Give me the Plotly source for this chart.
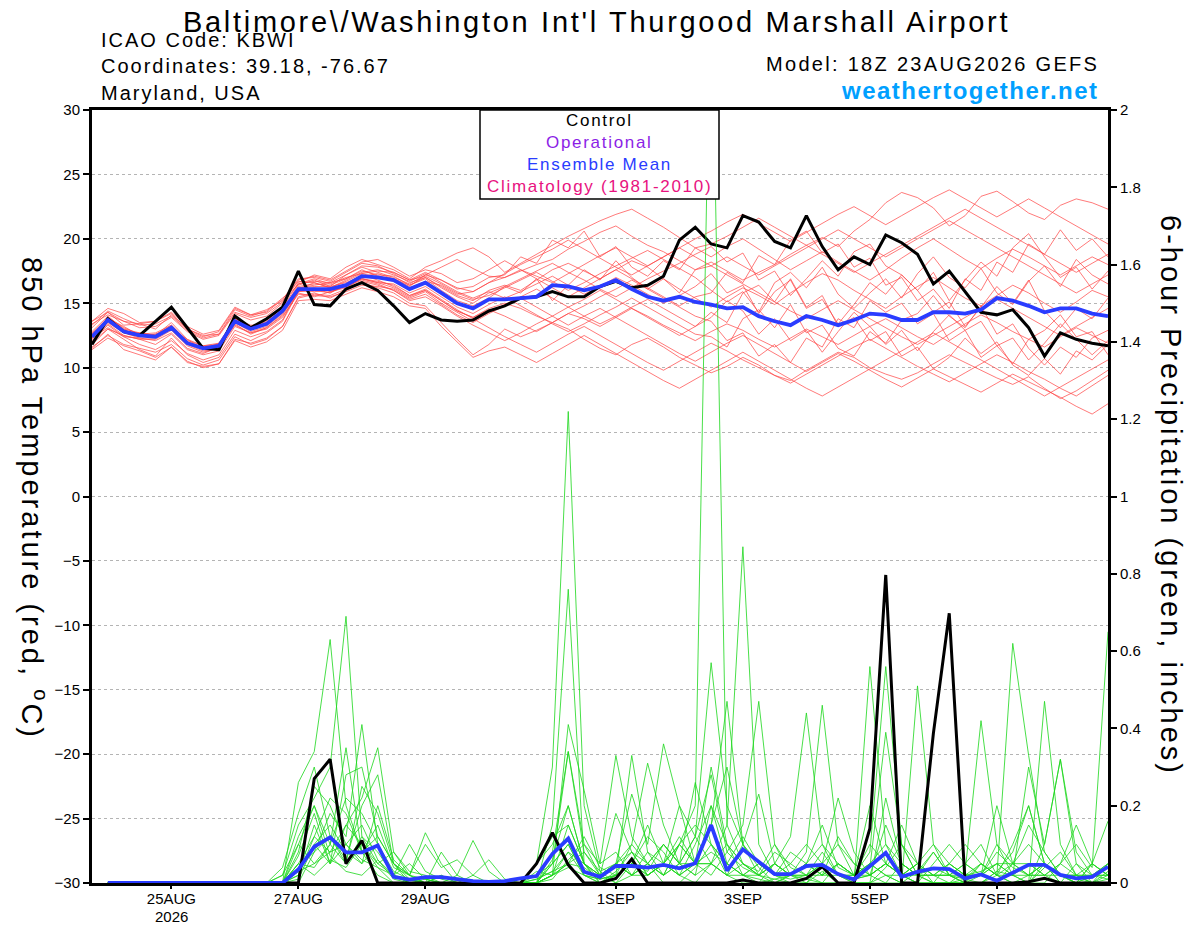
import plotly.graph_objects as go
import pandas as pd

# ---------------- data ----------------
start_time = "2026-08-23 18:00"
n_steps = 65
tick_dates = ["2026-08-25", "2026-08-27", "2026-08-29", "2026-09-01",
              "2026-09-03", "2026-09-05", "2026-09-07"]
tick_labels = ["25AUG", "27AUG", "29AUG", "1SEP", "3SEP", "5SEP", "7SEP"]
year_label = "2026"
temp_ticks = [-30, -25, -20, -15, -10, -5, 0, 5, 10, 15, 20, 25, 30]
prcp_ticks = [0, 0.2, 0.4, 0.6, 0.8, 1, 1.2, 1.4, 1.6, 1.8, 2]
prcp_tick_labels = ["0", "0.2", "0.4", "0.6", "0.8", "1", "1.2", "1.4", "1.6", "1.8", "2"]

temp_control = [
    11.8, 13.8, 12.8, 12.5, 13.6, 14.7, 13.1, 11.5, 11.4, 14.0, 13.1, 13.8, 14.7,
    17.5, 14.9, 14.8, 16.1, 16.6, 16.0, 14.8, 13.5, 14.2, 13.7, 13.6, 13.7, 14.4,
    14.8, 15.4, 15.5, 15.9, 15.5, 15.5, 16.3, 16.7, 16.2, 16.4, 17.1, 19.9, 20.9,
    19.6, 19.3, 21.8, 21.3, 19.8, 19.3, 21.8, 19.4, 17.6, 18.6, 18.0, 20.3, 19.7,
    18.8, 16.5, 17.5, 15.9, 14.3, 14.1, 14.5, 13.1, 10.9, 12.7, 12.2, 11.9, 11.7]

temp_mean = [
    12.4, 13.7, 12.8, 12.5, 12.4, 13.1, 11.9, 11.5, 11.7, 13.6, 13.0, 13.4, 14.4,
    16.1, 16.1, 16.1, 16.4, 17.1, 17.0, 16.8, 16.1, 16.6, 15.8, 15.0, 14.6, 15.3,
    15.3, 15.4, 15.5, 16.4, 16.3, 16.0, 16.3, 16.8, 16.1, 15.5, 15.2, 15.5, 15.1,
    14.9, 14.6, 14.7, 14.0, 13.6, 13.3, 14.0, 13.7, 13.3, 13.7, 14.2, 14.1, 13.7,
    13.7, 14.3, 14.3, 14.2, 14.5, 15.4, 15.2, 14.8, 14.3, 14.6, 14.6, 14.2, 14.0]

temp_m01 = [13.4,14.1,13.6,13.4,13.0,14.1,13.0,12.5,12.6,14.5,14.0,14.4,15.4,
            16.4,16.8,16.3,17.2,17.8,17.4,17.0,16.5,17.2,16.8,16.2,15.9,16.6,
            17.0,17.5,18.0,18.4,19.2,19.8,20.5,21.0,20.2,19.5,19.0,18.3,17.6,
            18.2,17.5,16.8,17.4,18.0,18.8,19.5,20.1,19.4,20.6,21.5,22.8,23.6,
            23.2,22.4,21.0,21.8,23.3,23.7,22.9,22.0,21.5,22.6,23.1,22.8,22.3]
temp_m02 = [11.5,12.6,11.4,11.0,10.6,11.6,10.4,10.1,10.3,12.2,11.9,12.3,13.2,
            15.5,15.8,15.4,16.0,16.6,16.2,15.8,15.0,14.8,13.5,12.2,11.0,11.8,
            13.0,12.4,12.9,13.5,13.0,12.2,11.5,11.0,11.8,12.3,11.6,10.8,10.2,
            9.6,10.1,10.8,10.2,9.4,9.0,9.8,10.5,11.2,10.8,10.0,9.5,9.1,
            9.6,10.3,11.0,10.4,9.8,9.2,8.7,9.3,8.4,7.6,8.2,9.0,9.8]
temp_m03 = [13.6,14.6,14.2,13.5,13.6,14.3,13.2,12.6,12.9,14.7,14.1,14.3,15.3,
            16.9,17.0,16.7,17.4,18.1,17.9,17.3,16.6,17.0,16.3,15.6,15.2,16.0,
            16.4,16.0,16.8,17.6,18.1,17.5,16.9,17.6,18.3,17.8,16.9,16.1,15.4,
            14.7,15.5,16.2,15.6,14.9,15.8,16.6,17.3,16.8,16.0,15.3,14.6,15.5,
            16.3,17.0,16.2,15.4,14.8,15.6,16.4,15.8,15.0,14.3,15.1,16.0,15.5]
temp_m04 = [11.8,13.0,12.5,12.2,11.8,12.6,11.4,11.0,11.3,13.2,12.7,13.0,13.9,
            15.8,15.5,15.9,16.2,16.9,16.7,16.4,15.6,16.0,15.2,14.4,13.9,14.6,
            15.0,14.6,14.0,13.5,14.2,13.8,13.2,13.9,14.6,14.0,13.3,12.7,12.1,
            12.8,13.4,12.9,12.2,11.6,12.3,13.0,12.4,11.8,12.5,13.2,13.8,13.1,
            12.4,11.8,12.6,13.4,14.1,13.5,12.8,12.2,11.6,12.4,13.1,12.5,11.9]
temp_m05 = [12.6,13.9,13.1,12.6,12.7,13.3,12.1,11.7,11.9,13.8,13.2,13.7,14.6,
            16.6,17.2,16.9,17.8,18.4,18.0,17.6,16.9,17.8,18.3,18.9,19.3,18.6,
            17.4,18.1,18.8,19.5,20.2,20.8,21.4,21.9,22.3,21.6,20.9,20.1,19.3,
            18.6,19.4,20.0,19.2,18.4,17.6,18.3,19.0,18.2,17.5,16.8,17.6,18.5,
            19.3,20.0,19.2,18.4,17.7,18.5,19.2,18.6,17.9,17.2,17.9,18.6,18.0]
temp_m06 = [12.0,13.0,12.2,11.4,10.9,12.3,11.0,10.4,10.8,12.6,12.1,12.7,13.6,
            15.9,16.1,15.8,16.5,17.2,16.8,16.3,15.6,16.1,15.3,14.5,13.8,13.1,
            12.4,11.8,11.2,11.9,12.6,13.2,12.5,11.8,11.1,10.4,9.8,10.5,11.2,
            11.9,11.3,10.6,10.0,9.4,8.8,9.5,10.2,10.9,11.6,12.2,11.5,10.8,
            10.1,9.5,8.9,9.6,10.3,11.0,10.4,9.7,9.1,8.4,7.8,8.6,9.4]
temp_m07 = [12.8,14.0,13.0,12.7,12.5,13.5,12.2,11.7,11.8,13.7,13.1,13.5,14.5,
            16.2,16.4,16.6,16.9,17.5,17.2,17.1,16.4,17.0,16.2,15.5,15.0,15.8,
            16.3,16.9,17.5,18.1,17.4,16.8,16.1,15.5,16.2,16.9,17.5,18.1,18.8,
            19.4,18.2,18.9,16.8,17.5,15.6,16.9,18.3,17.1,19.0,19.6,17.9,17.2,
            16.0,17.4,15.2,16.8,18.2,17.1,19.3,20.4,18.6,17.0,17.8,16.1,17.5]
temp_m08 = [12.3,13.1,12.4,11.8,11.4,12.1,11.1,10.6,11.0,12.9,12.4,12.8,13.7,
            16.0,15.9,16.0,16.3,16.8,16.5,16.0,15.3,15.7,14.9,14.1,13.5,14.2,
            14.8,15.4,14.7,14.0,13.3,14.0,14.6,13.9,13.2,12.5,11.8,11.1,10.5,
            11.2,11.9,12.5,11.8,11.1,10.4,9.7,10.4,11.1,10.5,9.8,9.1,8.5,
            9.2,9.9,9.3,8.7,8.1,8.8,9.5,8.9,8.3,7.7,7.0,6.4,7.2]
temp_m09 = [13.6,14.3,13.3,13.4,13.6,14.2,13.0,12.4,12.8,14.6,14.1,14.5,15.2,
            16.7,16.6,16.2,16.8,17.4,17.6,17.2,16.7,17.3,16.6,15.9,15.4,15.9,
            15.4,15.9,16.5,17.1,16.4,15.7,16.3,17.0,16.4,15.7,15.0,15.6,16.3,
            17.3,15.8,16.4,14.2,15.9,16.8,14.6,15.3,13.4,14.9,16.6,15.7,17.2,
            16.0,14.3,15.1,13.2,14.7,16.3,15.0,16.8,14.4,13.1,14.6,13.8,15.4]
temp_m10 = [12.3,13.7,12.9,12.6,12.4,13.2,12.0,11.6,11.8,13.5,13.1,13.6,14.5,
            16.3,16.5,16.4,16.9,17.6,17.1,16.9,16.3,17.2,17.8,18.4,17.7,17.1,
            17.0,17.6,17.1,16.6,17.3,18.0,18.7,19.3,18.6,17.9,18.6,19.3,20.0,
            20.6,21.3,21.9,21.2,20.5,19.8,20.5,21.2,21.9,22.5,21.8,21.1,21.8,
            22.5,23.2,23.8,23.1,22.4,21.7,22.4,23.1,22.4,21.7,21.0,20.3,19.6]
temp_m11 = [12.1,13.3,12.4,12.3,12.1,12.7,11.5,11.1,11.6,13.4,12.6,13.1,14.0,
            15.7,15.6,15.5,15.9,16.4,16.3,16.1,15.4,15.9,15.0,14.3,13.6,14.3,
            14.9,15.5,16.1,15.4,14.7,14.0,13.4,14.0,14.7,15.3,14.6,13.9,13.2,
            13.9,15.2,14.4,12.6,13.8,12.1,12.9,11.2,12.8,14.3,13.2,11.8,12.9,
            11.3,12.8,14.1,12.9,13.6,11.7,12.3,10.6,11.9,13.4,12.2,11.0,12.1]
temp_m12 = [12.7,13.8,13.2,12.5,12.6,13.0,12.2,11.4,11.9,13.8,13.3,13.3,14.3,
            16.5,16.9,16.5,17.0,17.3,17.5,17.4,16.8,17.1,16.5,15.8,15.3,15.6,
            16.2,16.8,17.4,16.7,16.0,16.6,17.3,17.9,18.5,19.1,18.4,17.7,17.0,
            16.0,15.1,15.9,14.3,16.6,17.4,16.2,17.8,15.7,14.6,15.8,16.9,15.4,
            17.3,18.6,17.0,16.2,17.7,15.8,14.9,16.7,17.9,16.3,18.4,17.2,16.5]
temp_m13 = [12.4,13.5,12.7,12.3,12.3,13.0,11.8,11.3,11.5,13.5,12.8,13.2,14.2,
            16.0,16.2,15.9,16.3,16.9,16.6,16.5,15.8,16.3,15.5,14.7,14.2,14.9,
            15.5,14.8,14.1,13.4,12.8,13.4,14.1,14.7,15.4,14.7,14.0,13.3,12.6,
            12.4,11.6,13.8,14.5,13.1,14.9,12.7,13.3,11.5,10.9,12.8,11.9,13.7,
            14.2,15.6,14.0,13.1,14.8,12.6,13.4,11.5,10.2,11.6,10.8,12.3,12.9]
temp_m14 = [12.6,13.6,12.8,12.7,12.5,13.3,12.0,11.5,11.6,13.6,13.0,13.5,14.4,
            16.1,16.6,16.2,16.7,17.3,17.0,16.7,16.2,16.7,16.4,15.7,15.9,16.6,
            17.3,18.0,18.6,19.2,19.9,19.2,18.5,17.8,17.2,17.9,18.6,19.3,18.6,
            17.9,17.2,16.5,15.8,15.1,14.4,13.8,14.5,15.2,14.5,13.8,13.1,12.4,
            11.8,12.5,13.2,13.9,14.6,15.3,14.6,13.9,13.2,12.5,13.2,13.9,14.6]
temp_m15 = [11.6,12.5,11.8,11.5,11.2,11.8,10.7,10.2,10.6,12.4,11.8,12.2,13.2,
            15.4,15.7,15.6,16.1,16.7,16.4,16.0,15.2,15.5,14.8,14.0,13.3,12.7,
            12.1,12.7,13.4,14.0,14.7,15.3,16.0,15.3,14.6,13.9,13.2,12.5,13.2,
            14.3,13.5,15.8,16.4,15.1,16.9,14.7,15.6,13.2,13.9,12.1,12.8,10.9,
            11.6,9.9,10.8,12.3,11.1,12.0,10.2,9.4,10.7,9.5,11.3,10.6,11.8]
temp_m16 = [13.3,14.4,13.8,13.3,13.4,14.0,12.9,12.3,12.6,14.3,13.9,14.2,15.1,
            16.8,17.1,16.8,17.5,18.2,18.4,17.8,17.1,17.6,17.3,16.6,16.9,17.6,
            18.3,17.6,16.9,16.2,15.5,16.2,16.9,17.6,16.9,16.2,15.5,14.8,15.5,
            15.8,17.4,16.6,18.7,18.0,19.9,20.6,18.9,19.6,17.8,18.5,16.4,17.0,
            15.2,16.1,14.6,16.9,16.0,18.2,17.4,19.6,18.8,20.7,19.1,20.0,18.6]
temp_m17 = [11.4,12.3,11.7,11.3,10.8,11.6,10.5,10.0,10.3,12.1,11.6,12.0,12.9,
            15.2,15.3,15.2,15.7,16.2,15.9,15.5,14.8,14.6,13.2,12.0,10.8,11.3,
            11.6,11.0,10.4,11.1,11.8,12.5,11.8,11.1,10.4,9.7,9.0,8.4,9.1,
            9.8,10.5,11.2,10.5,9.8,9.1,8.4,7.8,8.5,9.2,9.9,10.6,11.3,
            12.0,12.7,12.0,11.3,10.6,9.9,9.2,8.5,7.8,8.5,9.2,9.9,10.6]
temp_m18 = [12.5,13.8,13.0,12.4,12.6,13.2,11.9,11.6,11.7,13.7,13.1,13.4,14.3,
            16.2,16.3,16.3,16.6,17.1,17.3,16.9,16.4,16.9,16.0,15.2,14.8,15.4,
            16.3,15.8,16.9,15.2,16.4,17.6,16.8,18.3,17.0,16.1,16.9,15.8,17.6,
            17.9,18.6,17.9,17.2,17.9,18.6,19.3,20.0,20.7,20.0,19.3,18.6,19.3,
            20.0,20.7,21.4,20.7,20.0,19.3,18.6,17.9,17.2,16.5,15.8,16.5,17.2]
temp_m19 = [12.2,13.4,12.5,12.2,12.2,12.9,11.7,11.2,11.5,13.3,12.7,13.1,14.1,
            15.9,16.0,15.8,16.4,16.9,16.6,16.2,15.5,16.0,15.2,14.4,13.9,14.5,
            14.0,13.4,12.8,13.5,14.2,14.8,15.5,16.1,16.8,16.1,15.4,14.7,14.0,
            13.6,12.1,12.7,10.9,11.8,10.4,12.3,11.6,13.8,13.1,15.2,14.3,15.0,
            13.4,14.2,12.1,12.9,10.8,11.7,10.3,12.2,12.9,14.1,12.4,12.8,11.0]
temp_m20 = [13.1,14.3,13.6,13.1,13.2,13.9,12.8,12.2,12.5,14.2,13.7,14.0,15.0,
            16.5,16.7,16.6,17.2,17.9,17.8,17.4,16.8,17.4,16.8,16.1,16.3,17.0,
            17.2,18.6,18.1,19.9,19.3,20.6,18.6,19.4,17.8,17.1,18.3,17.6,19.3,
            19.6,20.2,20.9,21.6,20.9,20.2,19.5,18.8,18.1,17.4,18.1,18.8,19.5,
            20.2,20.9,21.6,22.3,21.6,20.9,20.2,19.5,18.8,18.1,17.4,18.1,18.8]

# 6-hour precipitation, valid times 6h .. 384h (64 values)
prcp_control = [0, 0, 0, 0, 0, 0, 0, 0, 0, 0, 0, 0, 0, 0.27, 0.32, 0.05,
                0.11, 0, 0, 0, 0, 0, 0, 0, 0, 0, 0, 0.05, 0.13, 0.047, 0, 0,
                0.012, 0.062, 0, 0, 0, 0, 0, 0, 0.008, 0, 0, 0, 0.012, 0.042, 0, 0,
                0.141, 0.797, 0, 0, 0.387, 0.698, 0, 0, 0, 0, 0.003, 0.012, 0, 0, 0, 0]
prcp_mean = [0, 0, 0, 0, 0, 0, 0, 0, 0, 0, 0, 0, 0.035, 0.094, 0.118, 0.079,
             0.079, 0.097, 0.016, 0.009, 0.015, 0.015, 0.01, 0.005, 0.003, 0.005, 0.012, 0.018, 0.075, 0.115, 0.029, 0.016,
             0.044, 0.044, 0.04, 0.047, 0.038, 0.051, 0.15, 0.032, 0.087, 0.055, 0.023, 0.023, 0.044, 0.047, 0.023, 0.009,
             0.044, 0.078, 0.016, 0.029, 0.038, 0.036, 0.012, 0.022, 0.006, 0.027, 0.047, 0.047, 0.021, 0.012, 0.016, 0.042]

prcp_m01 = [0,0,0,0,0,0,0,0,0,0,0,0,0.05,0.12,0.08,0.15,
            0.1,0.04,0,0,0,0.02,0,0,0,0,0,0.05,0.3,1.22,0.2,0.03,
            0,0.02,0.05,0,0,0.04,0.1,0.02,0,0,0.01,0,0,0.03,0,0,
            0,0.02,0,0,0,0,0.01,0.05,0.02,0,0,0.04,0.08,0.02,0,0]
prcp_m02 = [0,0,0,0,0,0,0,0,0,0,0,0,0.1,0.2,0.07,0.03,
            0.02,0.06,0.01,0,0,0,0,0,0,0,0,0,0.05,0.1,0.02,0,
            0.03,0.08,0.02,0.05,0.1,0.2,2.4,0.15,0.05,0.02,0,0,0.01,0,0,0,
            0,0,0,0.03,0.08,0.02,0,0,0,0,0.02,0.05,0,0,0,0.01]
prcp_m03 = [0,0,0,0,0,0,0,0,0,0,0,0.02,0.15,0.22,0.3,0.69,
            0.12,0.05,0.02,0,0.01,0,0,0,0,0,0,0,0.08,0.34,0.1,0.02,
            0,0.05,0.12,0.08,0.02,0,0.05,0.15,0.87,0.1,0.02,0,0,0.05,0.02,0,
            0,0.04,0.1,0.05,0,0,0,0,0.03,0.08,0.2,0.05,0,0,0,0]
prcp_m04 = [0,0,0,0,0,0,0,0,0,0,0,0,0.26,0.34,0.63,0.2,
            0.08,0.15,0.04,0.02,0.13,0.05,0,0,0,0,0,0,0.02,0.05,0.04,0.01,
            0.05,0.23,0.1,0.36,0.2,0.05,0.3,0.1,0.05,0.03,0.1,0.04,0.02,0,0,0,
            0.56,0.1,0.02,0,0,0,0,0.05,0.02,0,0,0.1,0.32,0.05,0,0]
prcp_m05 = [0,0,0,0,0,0,0,0,0,0,0,0,0,0.08,0.18,0.12,
            0.41,0.1,0.02,0,0,0,0.02,0.11,0.03,0,0,0,0.15,0.76,0.05,0,
            0.02,0.05,0.03,0.1,0.05,0.12,0.57,0.2,0.1,0.04,0,0.02,0.08,0.46,0.1,0.02,
            0.05,0.02,0,0.51,0.1,0.02,0,0,0,0.05,0.15,0.08,0.02,0,0,0.02]
prcp_m06 = [0,0,0,0,0,0,0,0,0,0,0,0,0.03,0.1,0.05,0.15,
            0.22,0.35,0.08,0.02,0,0,0,0,0,0,0,0.03,0.02,0.41,0.24,0.05,
            0.33,0.12,0.05,0.02,0.1,0.05,0.02,0.08,0.15,0.47,0.1,0.02,0,0,0.05,0.02,
            0.04,0.39,0.1,0.02,0,0,0,0,0.03,0.02,0,0.47,0.1,0.02,0,0]
prcp_m07 = [0,0,0,0,0,0,0,0,0,0,0,0.04,0.18,0.3,0.12,0.06,
            0.2,0.28,0.05,0.01,0,0.08,0.02,0,0,0,0,0.02,0.05,0.34,0.08,0.02,
            0.05,0.1,0.31,0.15,0.05,0.26,0.1,0.05,0.02,0,0.05,0.12,0.44,0.1,0.02,0,
            0,0.22,0.05,0.02,0.08,0.02,0,0,0.02,0.62,0.33,0.08,0.02,0,0.05,0.02]
prcp_m08 = [0,0,0,0,0,0,0,0,0,0,0,0,0.08,0.25,0.2,0.1,
            0.15,0.06,0.02,0.1,0.03,0.01,0,0,0,0,0,0,0.02,0.15,0.05,0.02,
            0.18,0.08,0.02,0.05,0.2,0.12,0.28,0.08,0.04,0.02,0.08,0.05,0.1,0.05,0.22,0.08,
            0.02,0,0.05,0.02,0,0,0.03,0.42,0.1,0.02,0,0,0.05,0.1,0.04,0.65]
prcp_m09 = [0,0,0,0,0,0,0,0,0,0,0,0,0.02,0.12,0.22,0.18,
            0.08,0.12,0.05,0.02,0.01,0,0,0.02,0.06,0.01,0,0.01,0.03,0.08,0.02,0,
            0.02,0.33,0.08,0.02,0.1,0.05,0.15,0.47,0.1,0.02,0.05,0.02,0.05,0.02,0.12,0.05,
            0.02,0.05,0.02,0,0,0.05,0.02,0.02,0.2,0.05,0.02,0.02,0.05,0.15,0.05,0.16]
prcp_m10 = [0,0,0,0,0,0,0,0,0,0,0,0,0.12,0.2,0.1,0.35,
            0.08,0.02,0,0,0,0,0,0,0,0,0,0,0.02,0.04,0.02,0.01,
            0.05,0.02,0.05,0.1,0.05,0.02,0.05,0.02,0.1,0.23,0.05,0.02,0.02,0.08,0.02,0.02,
            0.1,0.05,0.02,0.05,0.1,0.05,0.02,0.03,0.05,0.02,0.3,0.1,0.32,0.08,0.02,0.01]
prcp_m11 = [0,0,0,0,0,0,0,0,0,0,0,0,0.05,0.04,0.1,0.22,
            0.18,0.1,0.03,0.01,0,0,0,0,0,0,0,0,0.06,0.2,0.05,0,
            0.02,0.05,0.02,0.05,0.02,0.1,0.2,0.05,0.02,0.01,0,0.02,0.05,0.15,0.04,0.02,
            0.08,0.56,0.1,0.02,0.04,0.02,0.01,0,0,0,0,0.05,0.02,0,0.02,0.05]
prcp_m12 = [0,0,0,0,0,0,0,0,0,0,0,0,0.02,0.15,0.05,0.28,
            0.3,0.12,0.05,0.02,0.1,0.04,0.06,0.02,0,0,0,0,0.02,0.05,0.08,0.03,
            0.05,0.02,0.08,0.05,0.1,0.15,0.1,0.05,0.12,0.05,0.02,0.01,0.02,0.05,0.1,0.05,
            0.02,0.05,0.15,0.05,0.02,0,0,0.02,0.08,0.04,0.02,0.05,0.02,0.01,0,0.05]
prcp_m13 = [0,0,0,0,0,0,0,0,0,0,0,0,0.04,0.08,0.12,0.05,
            0.25,0.18,0.05,0,0,0.02,0,0,0,0,0,0.05,0.1,0.2,0.05,0.01,
            0.02,0.05,0.15,0.05,0.02,0.05,0.15,0.3,0.1,0.05,0.02,0.05,0.02,0.02,0.05,0.02,
            0.2,0.05,0.02,0,0.05,0.1,0.05,0.02,0.1,0.05,0.02,0.02,0,0.05,0.02,0.02]
prcp_m14 = [0,0,0,0,0,0,0,0,0,0,0,0,0.07,0.18,0.05,0.1,
            0.05,0.2,0.06,0.02,0,0,0,0,0,0,0,0,0.01,0.06,0.1,0.05,
            0.08,0.02,0.05,0.02,0.05,0.05,0.08,0.05,0.02,0.05,0.02,0.08,0.05,0.1,0.05,0.02,
            0.05,0.1,0.05,0.02,0.02,0.05,0.1,0.05,0.02,0.1,0.2,0.05,0.02,0,0.05,0.02]
prcp_m15 = [0,0,0,0,0,0,0,0,0,0,0,0.02,0.1,0.05,0.08,0.1,
            0.06,0.04,0.02,0.05,0.01,0,0,0,0,0,0,0.05,0.12,0.15,0.05,0.02,
            0.05,0.08,0.05,0.1,0.05,0.12,0.05,0.02,0.05,0.02,0.01,0.02,0.05,0.02,0.05,0.02,
            0.02,0.05,0.02,0.05,0.02,0.02,0.05,0.02,0.05,0.05,0.1,0.05,0.02,0.02,0,0.03]
prcp_m16 = [0,0,0,0,0,0,0,0,0,0,0,0,0.03,0.05,0.1,0.05,
            0.12,0.08,0.02,0.01,0,0,0,0,0,0,0,0.01,0.03,0.05,0.12,0.04,
            0.02,0.1,0.05,0.02,0.05,0.02,0.2,0.1,0.05,0.02,0.05,0.02,0.02,0.05,0.02,0.01,
            0.02,0.15,0.05,0.02,0.02,0.02,0.05,0.1,0.02,0.02,0.05,0.02,0.05,0.02,0.02,0.05]
prcp_m17 = [0,0,0,0,0,0,0,0,0,0,0,0,0.01,0.1,0.15,0.08,
            0.05,0.1,0.02,0,0,0,0,0,0,0,0,0,0.05,0.1,0.02,0.01,
            0.02,0.05,0.02,0.05,0.12,0.05,0.05,0.02,0.02,0.05,0.02,0.02,0.01,0.05,0.02,0.02,
            0.05,0.02,0.02,0.05,0.02,0.02,0.02,0.05,0.02,0.05,0.05,0.02,0.02,0.02,0.05,0.02]
prcp_m18 = [0,0,0,0,0,0,0,0,0,0,0,0,0.05,0.02,0.06,0.04,
            0.1,0.05,0.08,0.03,0.02,0,0,0,0,0,0,0,0.02,0.08,0.05,0.02,
            0.05,0.02,0.02,0.05,0.02,0.05,0.05,0.1,0.02,0.02,0.05,0.02,0.05,0.02,0.02,0.01,
            0.02,0.05,0.02,0.02,0.02,0.05,0.02,0.02,0.05,0.02,0.02,0.05,0.02,0.02,0.02,0.02]

temp_members = [temp_m01, temp_m02, temp_m03, temp_m04, temp_m05, temp_m06, temp_m07,
                temp_m08, temp_m09, temp_m10, temp_m11, temp_m12, temp_m13, temp_m14,
                temp_m15, temp_m16, temp_m17, temp_m18, temp_m19, temp_m20]
prcp_members = [prcp_m01, prcp_m02, prcp_m03, prcp_m04, prcp_m05, prcp_m06, prcp_m07,
                prcp_m08, prcp_m09, prcp_m10, prcp_m11, prcp_m12, prcp_m13, prcp_m14,
                prcp_m15, prcp_m16, prcp_m17, prcp_m18]

for k, m in enumerate(temp_members + [temp_control, temp_mean]):
    assert len(m) == n_steps, ("temp", k, len(m))
for k, m in enumerate(prcp_members + [prcp_control, prcp_mean]):
    assert len(m) == n_steps - 1, ("prcp", k, len(m))

times = pd.date_range(start_time, periods=n_steps, freq="6h")
ptimes = times[1:]

# ---------------- layout helpers ----------------
W, H = 1200, 927
OFF = 8                      # page body margin of the browser
L, R, T, B = 92, 1108, 110, 883   # plot area in window pixels
FONT = "Liberation Sans, Arial, Helvetica, sans-serif"


def px(x):
    return (x - L) / (R - L)


def py(y):
    return (B - y) / (B - T)


def spaced(text, ls):
    """wrap a label so that it is drawn with extra letter spacing (tracking)"""
    return '<span style="letter-spacing:%.1fpx">%s</span>' % (ls, text)


fig = go.Figure()

RED = "rgba(255,70,70,0.8)"
GREEN = "rgba(30,215,30,0.9)"
for m in temp_members:
    fig.add_trace(go.Scatter(x=times, y=m, mode="lines",
                             line=dict(color=RED, width=0.9), hoverinfo="skip"))
for m in prcp_members:
    fig.add_trace(go.Scatter(x=ptimes, y=m, mode="lines", yaxis="y2",
                             line=dict(color=GREEN, width=0.9), hoverinfo="skip"))

fig.add_trace(go.Scatter(x=ptimes, y=prcp_control, mode="lines", yaxis="y2",
                         line=dict(color="black", width=3)))
fig.add_trace(go.Scatter(x=ptimes, y=prcp_mean, mode="lines", yaxis="y2",
                         line=dict(color="#2a3cff", width=3.8)))
fig.add_trace(go.Scatter(x=times, y=temp_control, mode="lines",
                         line=dict(color="black", width=3)))
fig.add_trace(go.Scatter(x=times, y=temp_mean, mode="lines",
                         line=dict(color="#2a3cff", width=3.8)))

fig.update_layout(
    width=W, height=H,
    margin=dict(l=L - OFF, r=W - R + OFF, t=T - OFF, b=H - B + OFF, pad=0),
    paper_bgcolor="white", plot_bgcolor="white",
    showlegend=False,
    font=dict(family=FONT, color="black", size=15),
    xaxis=dict(
        type="date", automargin=False,
        range=[times[0], times[-1]],
        tickvals=pd.to_datetime(tick_dates), ticktext=tick_labels,
        ticks="outside", ticklen=3, tickwidth=1.5, tickcolor="black",
        ticklabelstandoff=-3,
        showline=True, linewidth=3, linecolor="black", mirror=True,
        showgrid=False, zeroline=False,
        tickfont=dict(size=15, family=FONT),
    ),
    yaxis=dict(
        range=[-30, 30], automargin=False,
        tickvals=temp_ticks,
        ticks="outside", ticklen=6, tickwidth=1.5, tickcolor="black",
        showline=True, linewidth=3, linecolor="black", mirror=True,
        showgrid=True, gridcolor="#b4b4b4", griddash="dot", gridwidth=1,
        zeroline=False, tickfont=dict(size=15, family=FONT),
    ),
    yaxis2=dict(
        range=[0, 2], automargin=False,
        tickvals=prcp_ticks, ticktext=prcp_tick_labels,
        overlaying="y", side="right",
        ticks="outside", ticklen=6, tickwidth=1.5, tickcolor="black",
        showline=True, linewidth=3, linecolor="black",
        showgrid=False, zeroline=False, tickfont=dict(size=15, family=FONT),
    ),
)

annots = [
    dict(text=spaced("Baltimore\\/Washington Int'l Thurgood Marshall Airport", 2.7),
         x=px(596), y=py(22), xanchor="center", yanchor="middle", font=dict(size=29)),
    dict(text=spaced("ICAO Code: KBWI", 2.0), x=px(99), y=py(40), xanchor="left",
         yanchor="middle", font=dict(size=20)),
    dict(text=spaced("Coordinates: 39.18, -76.67", 2.0), x=px(99), y=py(66),
         xanchor="left", yanchor="middle", font=dict(size=20)),
    dict(text=spaced("Maryland, USA", 2.0), x=px(99), y=py(93), xanchor="left",
         yanchor="middle", font=dict(size=20)),
    dict(text=spaced("Model: 18Z 23AUG2026 GEFS", 2.3), x=px(1101), y=py(64),
         xanchor="right", yanchor="middle", font=dict(size=20)),
    dict(text="<b>" + spaced("weathertogether.net", 1.5) + "</b>", x=px(1101), y=py(90),
         xanchor="right", yanchor="middle", font=dict(size=24, color="#00a0ff")),
    dict(text=spaced("850 hPa Temperature (red, <sup>o</sup>C)", 3.0), x=px(34), y=py(498),
         xanchor="center", yanchor="middle", textangle=90, font=dict(size=29)),
    dict(text=spaced("6-hour Precipitation (green, inches)", 3.0), x=px(1171), y=py(495),
         xanchor="center", yanchor="middle", textangle=90, font=dict(size=29)),
    dict(text=spaced("Control", 1.7), x=px(599), y=py(121), xanchor="center",
         yanchor="middle", font=dict(size=17, color="black")),
    dict(text=spaced("Operational", 1.7), x=px(599), y=py(142), xanchor="center",
         yanchor="middle", font=dict(size=17, color="#8c1ee6")),
    dict(text=spaced("Ensemble Mean", 1.7), x=px(599), y=py(164), xanchor="center",
         yanchor="middle", font=dict(size=17, color="#2a3cff")),
    dict(text=spaced("Climatology (1981-2010)", 1.7), x=px(599), y=py(186),
         xanchor="center", yanchor="middle", font=dict(size=17, color="#e8127f")),
]
for a in annots:
    a.update(xref="paper", yref="paper", showarrow=False)
    a["font"].setdefault("family", FONT)
    a["font"].setdefault("color", "black")
# year line under the first date tick
annots.append(dict(text=year_label, x=pd.Timestamp(tick_dates[0]), xref="x",
                   y=py(917), yref="paper", xanchor="center", yanchor="middle",
                   borderpad=0, showarrow=False,
                   font=dict(size=15, family=FONT, color="black")))
fig.update_layout(annotations=annots)

fig.add_shape(type="rect", xref="paper", yref="paper",
              x0=px(480), x1=px(719), y0=py(199), y1=py(110),
              line=dict(color="black", width=1.5), fillcolor="white", layer="above")

fig.write_html("out.html")
